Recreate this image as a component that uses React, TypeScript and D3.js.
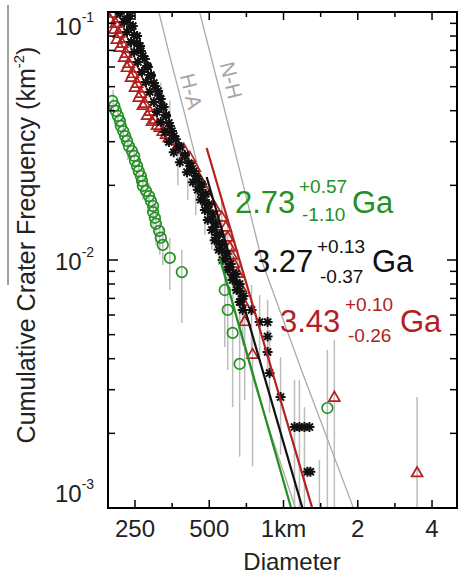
import React from "react";
import * as d3 from "d3";

// ---------- data (diameter in m, cumulative frequency in km^-2) ----------
const blackPoints: [number, number][] = [
  [217, 0.0983], [239, 0.0963], [226, 0.0911], [245, 0.0878], [232, 0.0831], [255, 0.08],
  [241, 0.0757], [262, 0.0729], [248, 0.069], [269, 0.0665], [257, 0.0629], [280, 0.0606],
  [267, 0.0573], [290, 0.0552], [277, 0.0522], [301, 0.0503], [287, 0.0476], [313, 0.0459],
  [298, 0.0434], [321, 0.0418], [307, 0.0395], [334, 0.0381], [318, 0.036], [346, 0.0347],
  [330, 0.0328], [359, 0.0316], [343, 0.0299], [376, 0.0288], [359, 0.0272], [398, 0.0263],
  [380, 0.0248], [421, 0.0239], [406, 0.0226], [441, 0.0218], [429, 0.0206], [466, 0.0202],
  [449, 0.0192], [484, 0.0185], [462, 0.0175], [498, 0.0168], [480, 0.0159], [517, 0.0153],
  [493, 0.0145], [531, 0.014], [512, 0.0132], [551, 0.0127], [526, 0.012], [567, 0.0116],
  [546, 0.011], [588, 0.0106], [567, 0.01], [611, 0.00964], [594, 0.00911], [640, 0.00878],
  [622, 0.00831], [664, 0.008], [646, 0.00757], [689, 0.00716], [664, 0.00677],
  [232, 0.0937], [241, 0.087], [248, 0.0808], [255, 0.075], [264, 0.0696], [274, 0.0646],
  [282, 0.06], [290, 0.0557], [298, 0.0517], [310, 0.048], [318, 0.0446], [327, 0.0414],
  [334, 0.0384], [343, 0.0357], [353, 0.0331], [366, 0.0307], [380, 0.0285], [398, 0.0265],
  [413, 0.0246], [433, 0.0228], [449, 0.0212], [462, 0.0197], [471, 0.0183], [480, 0.017],
  [493, 0.0158], [512, 0.0146], [526, 0.0136], [536, 0.0126], [546, 0.0117], [562, 0.0109],
  [583, 0.0101], [599, 0.00937], [622, 0.0087], [646, 0.00808], [664, 0.0075], [677, 0.00696],
  [683, 0.00629], [742, 0.00629], [800, 0.00562], [862, 0.00562], [862, 0.00492],
  [862, 0.00426], [878, 0.0035], [973, 0.0028], [1108, 0.00212], [1160, 0.00212],
  [1216, 0.00212], [1274, 0.00212], [1250, 0.0014], [1285, 0.0014],
];

const redPoints: [number, number][] = [
  [202, 0.0983], [212, 0.094], [209, 0.0895], [219, 0.0855], [215, 0.0815], [226, 0.078],
  [222, 0.0743], [234, 0.071], [230, 0.0677], [242, 0.0648], [236, 0.0617], [250, 0.059],
  [245, 0.0562], [260, 0.0537], [255, 0.0513], [270, 0.049], [264, 0.0467], [281, 0.0447],
  [274, 0.0426], [294, 0.041], [287, 0.0395], [301, 0.0367], [315, 0.0341], [334, 0.0319],
  [198, 0.0928], [206, 0.0846], [211, 0.0771], [217, 0.0716], [226, 0.0653], [232, 0.0594],
  [241, 0.0542], [250, 0.0494], [259, 0.045], [269, 0.0418], [280, 0.0381], [293, 0.036],
  [307, 0.0347], [324, 0.0328], [343, 0.031],
  [353, 0.0302], [373, 0.0288], [394, 0.0278], [417, 0.0258], [437, 0.0235], [458, 0.021],
  [480, 0.0192], [502, 0.0175], [526, 0.0162], [562, 0.0148], [583, 0.0135], [594, 0.0123],
  [605, 0.0112], [616, 0.0104], [628, 0.00964], [652, 0.00878], [670, 0.00771],
  [683, 0.00677], [696, 0.00562], [749, 0.00414], [1607, 0.00278], [3480, 0.00138],
];

const greenPoints: [number, number][] = [
  [202, 0.0438], [206, 0.0418], [209, 0.0399], [213, 0.0381], [217, 0.0364], [219, 0.0347],
  [224, 0.0331], [228, 0.0316], [232, 0.0302], [236, 0.0288], [243, 0.0275], [248, 0.0263],
  [250, 0.0251], [255, 0.0239], [259, 0.0228], [264, 0.0218], [267, 0.0208], [269, 0.0199],
  [277, 0.019], [285, 0.0181], [290, 0.0173], [296, 0.0165], [296, 0.0156], [301, 0.0148],
  [304, 0.014], [313, 0.0131], [318, 0.0123], [324, 0.0115], [346, 0.0102], [387, 0.00894],
  [578, 0.00757], [594, 0.00629], [622, 0.00508], [664, 0.00381], [1506, 0.00253],
];

// error bars: [diameter, low, high]
const blackErrors: [number, number, number][] = [
  [290, 0.047, 0.061], [318, 0.039, 0.052], [346, 0.032, 0.044],
  [373, 0.02, 0.0278], [409, 0.0175, 0.0253], [441, 0.0152, 0.022], [480, 0.0126, 0.0192],
  [512, 0.011, 0.0167], [546, 0.00955, 0.0152], [583, 0.00793, 0.0132], [622, 0.0069, 0.0115],
  [664, 0.00522, 0.01], [683, 0.00454, 0.00793], [742, 0.00434, 0.00793], [800, 0.00395, 0.00722],
  [862, 0.0036, 0.0069], [878, 0.00242, 0.00522], [973, 0.00164, 0.00406], [1108, 0.0009, 0.00328],
  [1160, 0.0009, 0.00328], [1216, 0.0009, 0.00255], [1398, 0.0009, 0.00156],
];
const redErrors: [number, number, number][] = [
  [562, 0.0125, 0.0175], [594, 0.0105, 0.0145], [616, 0.009, 0.0125], [652, 0.007, 0.011],
  [696, 0.00272, 0.00757], [749, 0.00147, 0.00476], [1607, 0.0009, 0.00476], [3480, 0.0009, 0.0028],
];
const greenErrors: [number, number, number][] = [
  [204, 0.0395, 0.0485], [213, 0.0341, 0.0422], [224, 0.0291, 0.0374], [234, 0.0253, 0.0325],
  [248, 0.0231, 0.0296], [259, 0.02, 0.0258], [269, 0.0175, 0.0226], [285, 0.0156, 0.0204],
  [296, 0.0135, 0.0183], [304, 0.0115, 0.0167], [315, 0.0105, 0.0148], [324, 0.00955, 0.0135],
  [346, 0.00757, 0.0123], [387, 0.00557, 0.011], [578, 0.00446, 0.00983], [594, 0.0036, 0.0087],
  [622, 0.00255, 0.00757], [664, 0.00161, 0.006], [1506, 0.0009, 0.00434],
];

// model isochrons (fits) and reference curves
const fitGreen: [number, number][] = [[551, 0.0102], [1080, 0.00098]];
const fitBlack: [number, number][] = [[488, 0.0216], [1200, 0.00098]];
const fitRed: [number, number][] = [[488, 0.0283], [1315, 0.00098]];
const curveHA: [number, number][] = [
  [313, 0.0991], [349, 0.064], [394, 0.0402], [453, 0.0231], [502, 0.0152], [567, 0.00955],
  [664, 0.00522], [778, 0.00299], [920, 0.00179], [1118, 0.001], [1125, 0.00097],
];
const curveNH: [number, number][] = [
  [455, 0.101], [458, 0.0991], [605, 0.0334], [822, 0.00973], [1182, 0.0036], [1900, 0.00103], [1920, 0.00097],
];

const xMajorTicks = [250, 500, 1000, 2000, 4000];
const xTickLabels = ["250", "500", "1km", "2", "4"];
const yMajorTicks = [0.001, 0.01, 0.1];
const yTickExponents = ["-3", "-2", "-1"];

const ageValues = ["2.73", "3.27", "3.43"];
const agePlus = ["+0.57", "+0.13", "+0.10"];
const ageMinus = ["-1.10", "-0.37", "-0.26"];

// ---------- layout ----------
const W = 458, H = 575;
const L = 108, R = 457, T = 12, B = 508;
const GREEN = "#239023";
const RED = "#b3201f";
const BLACK = "#111";
const GRAY = "#ababab";
const FONT = "Liberation Sans, Arial, Helvetica, sans-serif";

const x = d3.scaleLog().domain([194.3, 5050]).range([L, R]);
const y = d3.scaleLog().domain([0.001, 0.1]).range([B, T]);
const line = d3.line<[number, number]>().x((d) => x(d[0])).y((d) => y(d[1]));

const triPath = d3.symbol(d3.symbolTriangle, 52)()!;
const ar = 5, aa = ar * 0.7071;
const astPath = `M${-ar},0H${ar}M0,${-ar}V${ar}M${-aa},${-aa}L${aa},${aa}M${-aa},${aa}L${aa},${-aa}`;

const xMinorTicks = xMajorTicks.map((v) => v * Math.SQRT2).concat([xMajorTicks[0] / Math.SQRT2]).filter((v) => v > 194.3 && v < 5050);
const yMinorTicks: number[] = [];
[0.001, 0.01].forEach((dec) => { for (let m = 2; m <= 9; m++) yMinorTicks.push(dec * m); });

const ageLayout = [
  { color: GREEN, mx: 235, my: 213, sx: 299, supY: 193, subY: 221, gx: 352 },
  { color: BLACK, mx: 253, my: 272, sx: 317, supY: 253, subY: 283, gx: 372 },
  { color: RED, mx: 280, my: 332, sx: 345, supY: 311, subY: 342, gx: 400 },
];

export default function App() {
  const errBars = (arr: [number, number, number][], key: string) =>
    arr.map((d, i) => (
      <line key={key + i} x1={x(d[0])} x2={x(d[0])} y1={y(d[1])} y2={y(d[2])} stroke="#bdbdbd" strokeWidth={1.5} />
    ));
  return (
    <svg width={W} height={H} style={{ position: "absolute", left: 0, top: 0, background: "#fff" }} fontFamily={FONT}>
      <defs>
        <clipPath id="plotClip">
          <rect x={L} y={T} width={R - L} height={B - T} />
        </clipPath>
      </defs>
      <rect x={0} y={0} width={W} height={H} fill="#fff" />
      {/* stray border line at left */}
      <line x1={8} x2={8} y1={5} y2={285} stroke="#444" strokeWidth={1} />

      <g clipPath="url(#plotClip)">
        {errBars(greenErrors, "ge")}
        {errBars(blackErrors, "be")}
        {errBars(redErrors, "re")}
        <path d={line(curveHA)!} fill="none" stroke={GRAY} strokeWidth={1.3} />
        <path d={line(curveNH)!} fill="none" stroke={GRAY} strokeWidth={1.3} />
        {redPoints.map((d, i) => (
          <path key={"r" + i} d={triPath} transform={`translate(${x(d[0])},${y(d[1])})`} fill="none" stroke={RED} strokeWidth={1.7} />
        ))}
        {blackPoints.map((d, i) => (
          <path key={"b" + i} d={astPath} transform={`translate(${x(d[0])},${y(d[1])})`} fill="none" stroke={BLACK} strokeWidth={2} />
        ))}
        {greenPoints.map((d, i) => (
          <circle key={"g" + i} cx={x(d[0])} cy={y(d[1])} r={5.3} fill="none" stroke={GREEN} strokeWidth={1.7} />
        ))}
        <path d={line(fitGreen)!} fill="none" stroke={GREEN} strokeWidth={2.2} />
        <path d={line(fitBlack)!} fill="none" stroke={BLACK} strokeWidth={2.2} />
        <path d={line(fitRed)!} fill="none" stroke={RED} strokeWidth={2.2} />
      </g>

      {/* curve labels */}
      <text transform="translate(184,93) rotate(76)" textAnchor="middle" fontSize={21} fill="#a5a5a5">H-A</text>
      <text transform="translate(224,82) rotate(76)" textAnchor="middle" fontSize={21} fill="#a5a5a5">N-H</text>

      {/* frame */}
      <rect x={L} y={T} width={R - L} height={B - T} fill="none" stroke="#000" strokeWidth={2} />
      {xMajorTicks.map((v, i) => (
        <g key={"xt" + i}>
          <line x1={x(v)} x2={x(v)} y1={B} y2={B - 8} stroke="#000" strokeWidth={1.5} />
          <line x1={x(v)} x2={x(v)} y1={T} y2={T + 8} stroke="#000" strokeWidth={1.5} />
          <text x={x(v)} y={537} textAnchor="middle" fontSize={24} fill="#222">{xTickLabels[i]}</text>
        </g>
      ))}
      {xMinorTicks.map((v, i) => (
        <g key={"xm" + i}>
          <line x1={x(v)} x2={x(v)} y1={B} y2={B - 5} stroke="#000" strokeWidth={1.5} />
          <line x1={x(v)} x2={x(v)} y1={T} y2={T + 5} stroke="#000" strokeWidth={1.5} />
        </g>
      ))}
      {yMajorTicks.map((v, i) => {
        const yy = Math.min(Math.max(y(v) + 10, 35), 502);
        return (
          <g key={"yt" + i}>
            <line x1={L} x2={L + 10} y1={y(v)} y2={y(v)} stroke="#000" strokeWidth={1.5} />
            <line x1={R} x2={R - 10} y1={y(v)} y2={y(v)} stroke="#000" strokeWidth={1.5} />
            <text x={55} y={yy} fontSize={24} fill="#222">
              10<tspan dy={-13} fontSize={14}>{yTickExponents[i]}</tspan>
            </text>
          </g>
        );
      })}
      {yMinorTicks.map((v, i) => (
        <g key={"ym" + i}>
          <line x1={L} x2={L + 7} y1={y(v)} y2={y(v)} stroke="#000" strokeWidth={1.5} />
          <line x1={R} x2={R - 7} y1={y(v)} y2={y(v)} stroke="#000" strokeWidth={1.5} />
        </g>
      ))}

      {/* axis titles */}
      <text x={292} y={570} textAnchor="middle" fontSize={24} fill="#222">Diameter</text>
      <text transform="translate(35,245) rotate(-90)" textAnchor="middle" fontSize={25} fill="#222">
        Cumulative Crater Frequency (km<tspan dy={-11} fontSize={15}>-2</tspan><tspan dy={11}>)</tspan>
      </text>

      {/* age labels */}
      {ageLayout.map((a, i) => (
        <g key={"age" + i} fill={a.color}>
          <text x={a.mx} y={a.my} fontSize={31}>{ageValues[i]}</text>
          <text x={a.sx} y={a.supY} fontSize={19}>{agePlus[i]}</text>
          <text x={a.sx + 3} y={a.subY} fontSize={19}>{ageMinus[i]}</text>
          <text x={a.gx} y={a.my} fontSize={31}>Ga</text>
        </g>
      ))}
    </svg>
  );
}
